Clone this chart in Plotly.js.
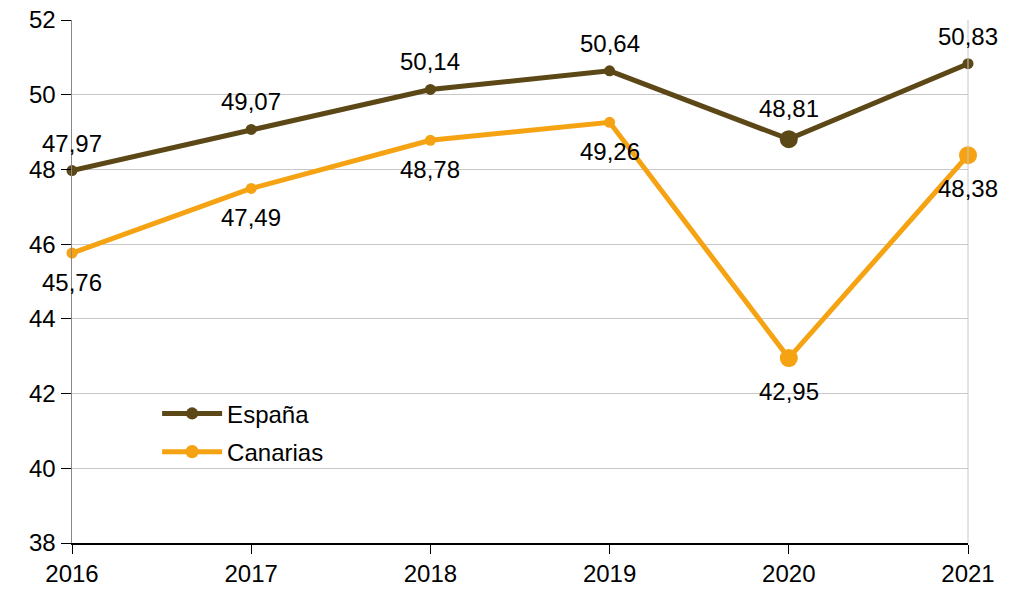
<!DOCTYPE html>
<html><head><meta charset="utf-8">
<script src="https://cdn.plot.ly/plotly-3.0.1.min.js"></script>
<style>body{margin:0}#c{width:1013px;height:591px}</style>
</head><body><div id="c"></div>
<script>
const years = [2016, 2017, 2018, 2019, 2020, 2021];
const espana = [47.97, 49.07, 50.14, 50.64, 48.81, 50.83];
const canarias = [45.76, 47.49, 48.78, 49.26, 42.95, 48.38];
const espanaSizes = [11, 11, 11, 11, 18, 11];
const canariasSizes = [11, 11, 11, 11, 18, 18];
const fmt = v => v.toFixed(2).replace('.', ',');
const FONT = 'Liberation Sans, Arial, sans-serif';
const cEsp = '#5c4716', cCan = '#f5a313';
const traces = [
  {x: years, y: espana, name: 'España', mode: 'lines+markers', legendgroup: 'a',
   line: {color: cEsp, width: 5}, marker: {color: cEsp, size: espanaSizes, opacity: 1, line: {width: 0}},
   cliponaxis: false},
  {x: years, y: canarias, name: 'Canarias', mode: 'lines+markers', legendgroup: 'b',
   line: {color: cCan, width: 5}, marker: {color: cCan, size: canariasSizes, opacity: 1, line: {width: 0}},
   cliponaxis: false}
];
const annotations = [];
years.forEach((yr, i) => {
  annotations.push({x: yr, y: espana[i], text: fmt(espana[i]), showarrow: false,
    xanchor: 'center', yanchor: 'middle', yshift: 22 + espanaSizes[i] / 2,
    font: {family: FONT, size: 24, color: '#000'}});
  annotations.push({x: yr, y: canarias[i], text: fmt(canarias[i]), showarrow: false,
    xanchor: 'center', yanchor: 'middle', yshift: -(24 + canariasSizes[i] / 2),
    font: {family: FONT, size: 24, color: '#000'}});
});
const layout = {
  width: 1013, height: 591,
  margin: {l: 72, r: 45, t: 20, b: 48},
  paper_bgcolor: '#fff', plot_bgcolor: '#fff',
  font: {family: FONT, size: 24, color: '#000'},
  showlegend: true,
  legend: {x: 0.095, y: 0.29, xanchor: 'left', yanchor: 'top', bgcolor: 'rgba(0,0,0,0)',
           font: {size: 24}, itemwidth: 60, tracegroupgap: 4},
  annotations: annotations,
  shapes: [{type: 'line', xref: 'paper', yref: 'paper', x0: 1, x1: 1, y0: 0, y1: 1,
            line: {color: '#c8c8c8', width: 1}}],
  xaxis: {range: [2016, 2021], tickvals: years, ticktext: years.map(String),
          showgrid: false, zeroline: false, showline: true, linecolor: '#000', linewidth: 1.5,
          ticks: 'outside', ticklen: 9, tickcolor: '#000', tickfont: {size: 24}},
  yaxis: {range: [38, 52], dtick: 2, tick0: 38, showgrid: true, gridcolor: '#c8c8c8', gridwidth: 1,
          zeroline: false, showline: true, linecolor: '#888', linewidth: 1.5,
          ticks: 'outside', ticklen: 10, tickcolor: '#000', tickfont: {size: 24}}
};
Plotly.newPlot('c', traces, layout, {displayModeBar: false, staticPlot: true});
</script></body></html>
